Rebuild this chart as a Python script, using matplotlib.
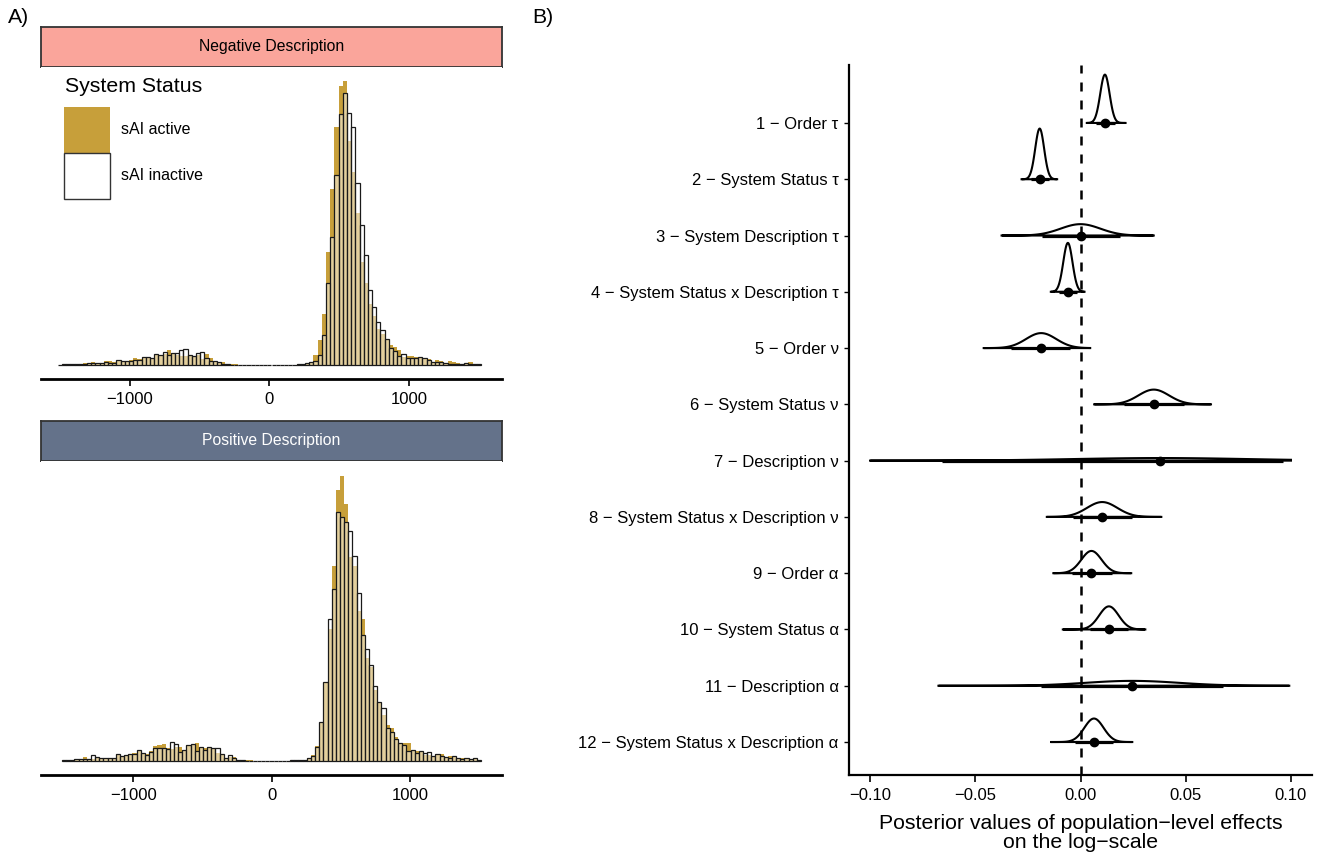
import numpy as np
import matplotlib
matplotlib.use("Agg")
import matplotlib.pyplot as plt
from matplotlib.patches import Patch

plt.rcParams['font.family'] = ['Liberation Sans', 'DejaVu Sans']

# ---------------- panel A data: histogram counts, bins of width 30 ----------------
bin_centers = np.arange(-1500, 1501, 30)   # 101 bins, -1515 .. 1515

neg_active = [
    0, 1, 0.5, 0.7, 1.3, 1.3, 2, 2.3, 2.7, 2.3,
    1.5, 3.7, 3.7, 2.7, 4, 4.3, 3.3, 5.3, 6.7, 6.3,
    7.7, 7.7, 7, 10.3, 10, 10.7, 15.3, 11.7, 10, 9.3,
    9.3, 10, 9.3, 10, 6, 11, 7, 4, 3.3, 2.7,
    1.3, 1.3, 1, 0, 0, 0, 0, 0, 0, 0,
    0, 0, 0, 0, 0, 0.3, 0.3, 0.5, 1, 1.3,
    3.3, 10, 25, 51, 114, 177, 240, 281, 286, 226,
    194, 153, 104, 83, 61, 49, 36, 31, 26, 20,
    18, 15, 8, 9, 9, 8, 7, 7, 6, 3,
    5, 4, 2, 4, 3, 2, 1, 1, 3, 1,
    1]
neg_inactive = [
    0, 1, 0.5, 0.7, 1.3, 1, 1.3, 1.7, 2, 2,
    1.7, 2.7, 2, 2, 5, 3.7, 3.7, 3.7, 5, 5.3,
    8.3, 7.7, 7, 11, 10, 12.7, 10, 11.7, 11.7, 15,
    16, 9.7, 9.3, 11.7, 13.3, 7.3, 3.7, 4.3, 2.7, 1.3,
    0.7, 0.3, 0.2, 0, 0, 0, 0, 0, 0, 0,
    0, 0, 0, 0, 0, 0.3, 0.3, 0.5, 1, 1.7,
    2.7, 4.3, 10, 30, 82, 129, 191, 253, 274, 254,
    240, 183, 141, 111, 75, 58, 43, 35, 26, 17,
    14, 9, 11, 7, 7, 7, 8, 7, 5, 3,
    3, 3, 2, 1, 1, 1, 1, 2, 1, 1,
    1]
pos_active = [
    0.7, 1, 0.7, 2, 2, 4, 1.3, 1.3, 3, 3,
    3, 3, 3, 6.3, 4, 5.7, 7, 7.7, 9.7, 8,
    6.3, 9.7, 14.7, 15.7, 16.3, 12.3, 12, 14, 13.7, 10.7,
    15.7, 15.3, 18, 13, 12.3, 13.7, 13, 8, 7, 3,
    4, 3.7, 0.7, 0.3, 0.3, 0.3, 0, 0, 0, 0,
    0, 0, 0, 0, 0, 0.3, 0.5, 0.5, 1, 2.3,
    5.7, 15, 37.7, 77.7, 131.7, 195.3, 271.7, 285.3, 257.7, 203.7,
    195, 150.3, 142, 102.7, 94.3, 71, 57.7, 46, 36, 33,
    23.3, 17.7, 17.7, 17.7, 10.7, 10, 9, 6, 5.7, 5,
    6.7, 6.7, 3, 4.3, 3.3, 2.7, 2.3, 2.3, 1.7, 2.3,
    1]
pos_inactive = [
    0.7, 1, 0.7, 2, 2, 1.3, 1.3, 5.3, 3.3, 2.3,
    3, 2.7, 3, 7, 4.7, 5.3, 7, 7, 10.7, 7.3,
    5.7, 8.7, 12.3, 13, 12.3, 11.7, 19, 17, 9, 10.3,
    15.7, 17, 9.7, 13.7, 10.3, 13.7, 12.3, 12.3, 7, 3,
    5.3, 3, 0.7, 0.3, 0.2, 0.2, 0, 0, 0, 0,
    0, 0, 0, 0, 0, 0.3, 0.5, 0.5, 1, 2.3,
    5, 13.7, 38.7, 79, 141.7, 172, 249, 244, 239, 230,
    205, 168.3, 126, 111.7, 96, 75, 58.7, 53.3, 32.7, 29,
    21.7, 17.7, 16, 10, 10.7, 7.7, 10, 7.7, 8.3, 4.3,
    6.7, 5, 3.3, 2.3, 4.3, 2.3, 1.7, 2.3, 1.7, 3,
    0.7]

facets = ["Negative Description", "Positive Description"]
legend_title = "System Status"
legend_labels = ["sAI active", "sAI inactive"]
hist_ticks = [-1000, 0, 1000]
hist_ticklabels = ["\u22121000", "0", "1000"]

# ---------------- panel B data: posterior summaries ----------------
effects = [
    "1 \u2212 Order \u03c4",
    "2 \u2212 System Status \u03c4",
    "3 \u2212 System Description \u03c4",
    "4 \u2212 System Status x Description \u03c4",
    "5 \u2212 Order \u03bd",
    "6 \u2212 System Status \u03bd",
    "7 \u2212 Description \u03bd",
    "8 \u2212 System Status x Description \u03bd",
    "9 \u2212 Order \u03b1",
    "10 \u2212 System Status \u03b1",
    "11 \u2212 Description \u03b1",
    "12 \u2212 System Status x Description \u03b1",
]
median = np.array([0.0116, -0.0194, 0.0, -0.006, -0.0187, 0.0348, 0.038, 0.0103, 0.0052, 0.0135, 0.0246, 0.0064])
lo95 = np.array([0.0075, -0.0235, -0.0184, -0.0101, -0.033, 0.0205, -0.066, -0.0037, -0.004, 0.0043, -0.0187, -0.0025])
hi95 = np.array([0.0162, -0.0152, 0.0186, -0.0015, -0.0049, 0.049, 0.096, 0.0246, 0.0149, 0.0225, 0.0678, 0.0154])
slab_min = np.array([0.003, -0.028, -0.0375, -0.0141, -0.046, 0.0065, -0.1, -0.016, -0.0129, -0.0084, -0.0675, -0.014])
slab_max = np.array([0.0214, -0.0111, 0.0348, 0.0019, 0.0046, 0.062, 0.1, 0.0384, 0.0241, 0.0308, 0.0992, 0.0246])
post_ticks = [-0.10, -0.05, 0.0, 0.05, 0.10]
post_ticklabels = ["\u22120.10", "\u22120.05", "0.00", "0.05", "0.10"]

GOLD = "#C79F3A"
STRIP_COLS = ["#FAA59B", "#64728A"]
STRIP_TEXT = ["black", "white"]

W, H = 1318, 859
fig = plt.figure(figsize=(W / 100, H / 100), dpi=100)


def fx(px):
    return px / W


def fy(py):
    return 1 - py / H


# ---- panel A ----
panel_rows = [(27, 67, 379), (421, 461, 775)]
xlims = [(-1635, 1665), (-1666.5, 1666.5)]
series = [(neg_active, neg_inactive), (pos_active, pos_inactive)]
ymax = max(max(neg_active), max(neg_inactive), max(pos_active), max(pos_inactive))

for i, (s_top, s_bot, p_bot) in enumerate(panel_rows):
    sax = fig.add_axes([fx(41), fy(s_bot), fx(502) - fx(41), fy(s_top) - fy(s_bot)])
    sax.set_facecolor(STRIP_COLS[i])
    sax.set_xticks([])
    sax.set_yticks([])
    for sp in sax.spines.values():
        sp.set_color("#333333")
        sp.set_linewidth(1.3)
    sax.text(0.5, 0.5, facets[i], ha="center", va="center", fontsize=11.3,
             color=STRIP_TEXT[i], transform=sax.transAxes)

    ax = fig.add_axes([fx(41), fy(p_bot), fx(502) - fx(41), fy(s_bot) - fy(p_bot)])
    act, inact = series[i]
    ax.bar(bin_centers, act, width=30, color=GOLD, linewidth=0)
    ax.bar(bin_centers, inact, width=30, facecolor=(1, 1, 1, 0.5),
           edgecolor="#1a1a1a", linewidth=0.9)
    ax.set_xlim(*xlims[i])
    ax.set_ylim(-0.05 * ymax, 1.05 * ymax)
    ax.set_yticks([])
    for side in ["left", "right", "top"]:
        ax.spines[side].set_visible(False)
    ax.spines["bottom"].set_linewidth(2.0)
    ax.set_xticks(hist_ticks)
    ax.set_xticklabels(hist_ticklabels, fontsize=12)
    ax.tick_params(axis="x", length=5, width=1.2, pad=4)

    if i == 0:
        handles = [Patch(facecolor=GOLD, edgecolor="none"),
                   Patch(facecolor="white", edgecolor="#333333", linewidth=1)]
        ax.legend(handles, legend_labels,
                  loc="upper left", bbox_to_anchor=(fx(64), fy(107)),
                  bbox_transform=fig.transFigure, frameon=False,
                  fontsize=11.5, handlelength=2.88, handleheight=4.05,
                  labelspacing=0, handletextpad=0.7,
                  borderpad=0, borderaxespad=0)
        fig.text(fx(65), fy(87), legend_title, fontsize=15.3, ha="left", va="center")

fig.text(fx(8), fy(8), "A)", fontsize=15.3, ha="left", va="top")
fig.text(fx(532), fy(8), "B)", fontsize=15.3, ha="left", va="top")

# ---- panel B ----
bx = fig.add_axes([fx(849), fy(775), fx(1312) - fx(849), fy(65) - fy(775)])
n = len(effects)
ypos = np.arange(n)[::-1].astype(float)
sd = (hi95 - lo95) / 3.92
peak = 1 / (sd * np.sqrt(2 * np.pi))
scale = 0.9 / peak.max()

bx.axvline(0, color="black", lw=1.8, linestyle=(0, (3.6, 3.6)), zorder=1)
for i in range(n):
    xs = np.linspace(slab_min[i], slab_max[i], 300)
    d = np.exp(-0.5 * ((xs - median[i]) / sd[i]) ** 2) / (sd[i] * np.sqrt(2 * np.pi))
    bx.fill(np.r_[xs, xs[::-1]], np.r_[ypos[i] + d * scale, np.full_like(xs, ypos[i])],
            facecolor="none", edgecolor="black", lw=1.5, zorder=2)
    bx.plot([lo95[i], hi95[i]], [ypos[i], ypos[i]], color="black", lw=2.3,
            solid_capstyle="butt", zorder=3)
    bx.plot(median[i], ypos[i], "o", color="black", ms=6, zorder=4)

bx.set_xlim(-0.11, 0.11)
bx.set_ylim(-0.586, n - 1 + 1.03)
bx.set_yticks(ypos)
bx.set_yticklabels(effects, fontsize=12)
bx.set_xticks(post_ticks)
bx.set_xticklabels(post_ticklabels, fontsize=12)
bx.tick_params(axis="y", length=3.5, width=1, pad=4)
bx.tick_params(axis="x", length=5, width=1.2, pad=4)
for side in ["right", "top"]:
    bx.spines[side].set_visible(False)
for side in ["left", "bottom"]:
    bx.spines[side].set_linewidth(1.6)
bx.set_xlabel("Posterior values of population\u2212level effects\non the log\u2212scale",
              fontsize=15.3, linespacing=1.05, labelpad=8)

fig.savefig("out.png", dpi=100)
